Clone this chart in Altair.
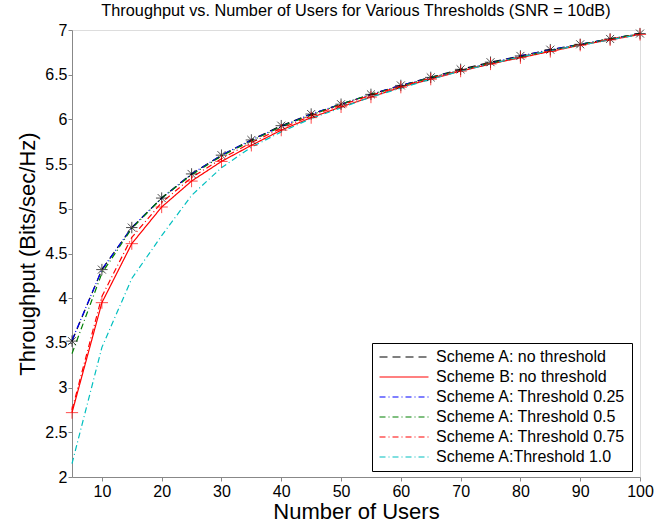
import altair as alt
import pandas as pd

users = [5, 10, 15, 20, 25, 30, 35, 40, 45, 50, 55, 60, 65, 70, 75, 80, 85, 90, 95, 100]

series_names = [
    "Scheme A: no threshold",
    "Scheme B: no threshold",
    "Scheme A: Threshold 0.25",
    "Scheme A: Threshold 0.5",
    "Scheme A: Threshold 0.75",
    "Scheme A:Threshold 1.0",
]

scheme_a = [3.52, 4.32, 4.79, 5.12, 5.39, 5.60, 5.77, 5.93, 6.06, 6.17,
            6.28, 6.38, 6.47, 6.56, 6.64, 6.71, 6.78, 6.84, 6.90, 6.96]
scheme_b = [2.72, 3.95, 4.61, 5.02, 5.31, 5.53, 5.71, 5.88, 6.02, 6.14,
            6.25, 6.36, 6.45, 6.54, 6.62, 6.69, 6.76, 6.83, 6.89, 6.95]
thr_025 = [3.53, 4.32, 4.79, 5.12, 5.39, 5.60, 5.77, 5.92, 6.06, 6.17,
           6.28, 6.38, 6.47, 6.55, 6.63, 6.71, 6.78, 6.84, 6.90, 6.96]
thr_050 = [3.38, 4.28, 4.78, 5.12, 5.38, 5.59, 5.76, 5.92, 6.05, 6.17,
           6.28, 6.37, 6.47, 6.55, 6.63, 6.70, 6.77, 6.84, 6.90, 6.96]
thr_075 = [2.75, 4.02, 4.68, 5.07, 5.35, 5.56, 5.74, 5.90, 6.04, 6.16,
           6.27, 6.37, 6.46, 6.55, 6.62, 6.70, 6.77, 6.83, 6.90, 6.95]
thr_100 = [2.15, 3.45, 4.22, 4.70, 5.15, 5.46, 5.69, 5.86, 6.01, 6.13,
           6.25, 6.35, 6.45, 6.54, 6.62, 6.70, 6.77, 6.83, 6.89, 6.95]

x_ticks = [10, 20, 30, 40, 50, 60, 70, 80, 90, 100]
y_ticks = [2, 2.5, 3, 3.5, 4, 4.5, 5, 5.5, 6, 6.5, 7]

colors = ["#000000", "#ff0000", "#0000ff", "#008000", "#ff0000", "#00bfbf"]
dashes = [[8, 5], [1, 0], [6, 3, 1, 3], [6, 3, 1, 3], [6, 3, 1, 3], [6, 3, 1, 3]]

all_values = [scheme_a, scheme_b, thr_025, thr_050, thr_075, thr_100]
rows = []
for order, (name, vals) in enumerate(zip(series_names, all_values)):
    for u, v in zip(users, vals):
        rows.append({"users": u, "throughput": v, "series": name, "order": order})
df = pd.DataFrame(rows)

FONT = "Liberation Sans"

x_enc = alt.X("users:Q",
              scale=alt.Scale(domain=[5, 100], nice=False, zero=False),
              axis=alt.Axis(values=x_ticks, title="Number of Users", grid=False,
                            tickSize=4, labelPadding=2, titlePadding=2,
                            labelFontSize=16, titleFontSize=22, labelFlush=False,
                            titleFontWeight="normal"))
y_enc = alt.Y("throughput:Q",
              scale=alt.Scale(domain=[2, 7], nice=False, zero=False),
              axis=alt.Axis(values=y_ticks, format="~g", title="Throughput (Bits/sec/Hz)",
                            grid=False, tickSize=4, labelPadding=1, titlePadding=5,
                            labelFontSize=16, titleFontSize=22, labelFlush=False,
                            titleFontWeight="normal"))

legend_kw = dict(title=None, orient="none", legendX=300, legendY=313,
                 symbolType="M-4,0L4,0", symbolSize=150, symbolOffset=18,
                 symbolStrokeWidth=1.2, labelFontSize=16, labelFont=FONT,
                 labelOffset=24, rowPadding=4, padding=6,
                 fillColor="white", strokeColor="#000000",
                 labelLimit=400, labelColor="#000000")

lines = alt.Chart(df).mark_line(strokeWidth=1.2).encode(
    x=x_enc,
    y=y_enc,
    color=alt.Color("series:N", scale=alt.Scale(domain=series_names, range=colors),
                    legend=alt.Legend(**legend_kw)),
    strokeDash=alt.StrokeDash("series:N", scale=alt.Scale(domain=series_names, range=dashes),
                              legend=alt.Legend(**legend_kw)),
    order=alt.Order("order:Q"),
    detail="series:N",
)

asterisk = "M-1,0L1,0M0,-1L0,1M-0.7,-0.7L0.7,0.7M-0.7,0.7L0.7,-0.7"
plus = "M-1,0L1,0M0,-1L0,1"

pts_a = alt.Chart(df).transform_filter(
    alt.datum.series == series_names[0]
).mark_point(shape=asterisk, size=130, filled=False, stroke="#000000", strokeWidth=1).encode(
    x="users:Q", y="throughput:Q")

pts_b = alt.Chart(df).transform_filter(
    alt.datum.series == series_names[1]
).mark_point(shape=plus, size=150, filled=False, stroke="#ff0000", strokeWidth=1).encode(
    x="users:Q", y="throughput:Q")

chart = alt.layer(lines, pts_a, pts_b).properties(
    width=568,
    height=447,
    autosize="none",
    padding={"left": 72, "top": 30, "right": 28, "bottom": 52},
    title=alt.TitleParams("Throughput vs. Number of Users for Various Thresholds (SNR = 10dB)",
                          fontSize=16.3, font=FONT, fontWeight="normal", offset=3,
                          anchor="middle", color="#000000"),
).configure_view(stroke=None).configure_axis(
    labelFont=FONT, titleFont=FONT, titleFontWeight="normal",
    domainColor="#000000", tickColor="#000000", labelColor="#000000", titleColor="#000000",
    domainWidth=1, tickWidth=1,
).configure(background="white")

chart.save("out.html", embed_options={"renderer": "svg", "actions": False})
